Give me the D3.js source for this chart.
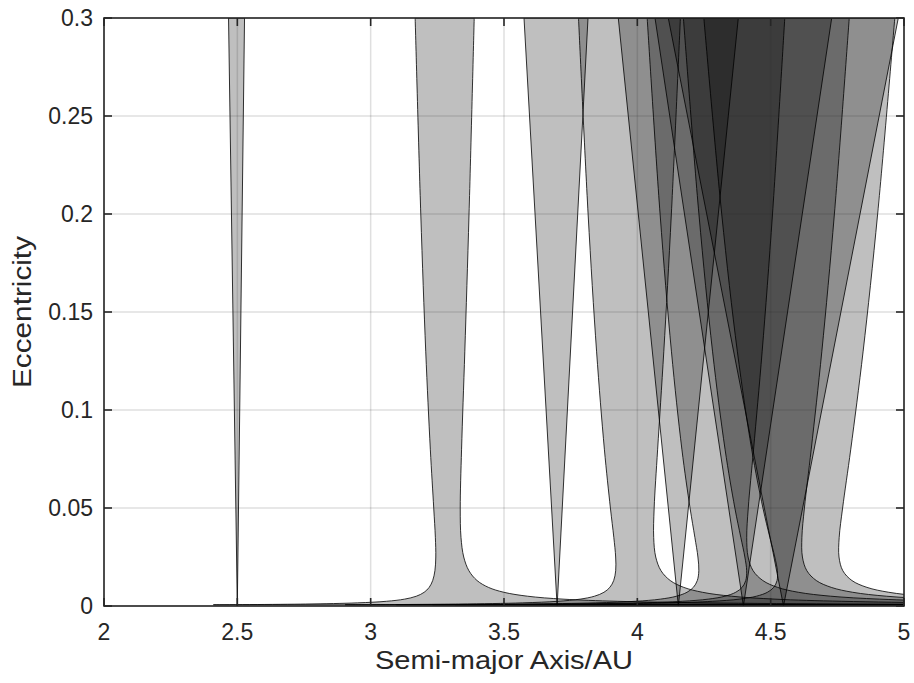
<!DOCTYPE html>
<html>
<head>
<meta charset="utf-8">
<script src="https://cdn.jsdelivr.net/npm/d3@7"></script>
<style>
  html, body { margin: 0; padding: 0; background: #fff; }
  svg { display: block; }
  text { font-family: "Liberation Sans", Arial, Helvetica, sans-serif; fill: #262626; }
</style>
</head>
<body>
<svg id="chart" width="914" height="683"></svg>
<script>
// Axis ticks
const xTicks = [2, 2.5, 3, 3.5, 4, 4.5, 5];
const yTicks = [0, 0.05, 0.1, 0.15, 0.2, 0.25, 0.3];
const xTickLabels = ["2", "2.5", "3", "3.5", "4", "4.5", "5"];
const yTickLabels = ["0", "0.05", "0.1", "0.15", "0.2", "0.25", "0.3"];

// Eccentricities at which the first-order resonance edges are sampled
const eccGrid = [0.3, 0.2, 0.13, 0.08, 0.05, 0.035, 0.025, 0.018, 0.013, 0.0095, 0.007, 0.005, 0.0035, 0.0024, 0.0016, 0.001, 0.0006];

// First-order resonances: inner (small a) and outer (large a) edges, AU, one per eccGrid entry
const res21Inner = [3.1668, 3.1879, 3.2065, 3.2237, 3.2365, 3.2426, 3.2442, 3.2409, 3.2326, 3.2194, 3.2006, 3.1714, 3.1271, 3.0592, 2.9511, 2.7563, 2.4100];
const res21Outer = [3.3883, 3.3689, 3.3531, 3.3409, 3.3359, 3.3387, 3.3490, 3.3684, 3.3989, 3.4416, 3.4994, 3.5880, 3.7213, 3.9253, 4.2499, 4.8343, 5.8731];
const res32Inner = [3.7794, 3.8154, 3.8471, 3.8764, 3.8990, 3.9118, 3.9187, 3.9188, 3.9114, 3.8969, 3.8748, 3.8394, 3.7853, 3.7020, 3.5691, 3.3298, 2.9042];
const res32Outer = [4.1615, 4.1276, 4.0993, 4.0762, 4.0631, 4.0613, 4.0690, 4.0888, 4.1234, 4.1742, 4.2442, 4.3526, 4.5161, 4.7667, 5.1655, 5.8838, 7.1606];
const res43Inner = [4.0369, 4.0853, 4.1278, 4.1670, 4.1977, 4.2158, 4.2272, 4.2306, 4.2249, 4.2101, 4.1862, 4.1470, 4.0865, 3.9930, 3.8437, 3.5746, 3.0961];
const res43Outer = [4.5529, 4.5069, 4.4682, 4.4359, 4.4160, 4.4102, 4.4153, 4.4341, 4.4705, 4.5260, 4.6039, 4.7251, 4.9087, 5.1902, 5.6386, 6.4460, 7.8815];
const res54Inner = [4.1727, 4.2309, 4.2819, 4.3289, 4.3657, 4.3881, 4.4032, 4.4100, 4.4066, 4.3929, 4.3689, 4.3287, 4.2658, 4.1684, 4.0126, 3.7318, 3.2322];
const res54Outer = [4.7947, 4.7390, 4.6920, 4.6522, 4.6266, 4.6171, 4.6191, 4.6357, 4.6711, 4.7273, 4.8076, 4.9335, 5.1248, 5.4185, 5.8866, 6.7294, 8.2280];
const res65Inner = [4.2494, 4.3164, 4.3749, 4.4287, 4.4710, 4.4970, 4.5154, 4.5251, 4.5240, 4.5115, 4.4878, 4.4468, 4.3823, 4.2820, 4.1214, 3.8317, 3.3163];
const res65Outer = [4.9655, 4.9012, 4.8468, 4.8004, 4.7698, 4.7570, 4.7563, 4.7706, 4.8047, 4.8611, 4.9429, 5.0722, 5.2693, 5.5721, 6.0548, 6.9244, 8.4705];

// Second-order resonances: [inner edge at e = 0.3, centre at e = 0, outer edge at e = 0.3], AU
const res31 = [2.467, 2.4999, 2.527];
const res53 = [3.575, 3.6992, 3.815];
const res75 = [3.9286, 4.1538, 4.3786];
const res97 = [4.0663, 4.3978, 4.7289];
const res119 = [4.1161, 4.5482, 4.9786];
const eccTop = 0.3;

const firstOrder = [
  [res21Inner, res21Outer],
  [res32Inner, res32Outer],
  [res43Inner, res43Outer],
  [res54Inner, res54Outer],
  [res65Inner, res65Outer]
];
const secondOrder = [res31, res53, res75, res97, res119];

// Layout
const plot = { left: 104, right: 904, top: 18, bottom: 606 };
const svg = d3.select("#chart");
const x = d3.scaleLinear().domain([2, 5]).range([plot.left, plot.right]);
const y = d3.scaleLinear().domain([0, 0.3]).range([plot.bottom, plot.top]);

svg.append("defs").append("clipPath").attr("id", "plotClip")
  .append("rect")
  .attr("x", plot.left).attr("y", plot.top)
  .attr("width", plot.right - plot.left).attr("height", plot.bottom - plot.top);

const smooth = d3.line().x(d => x(d[0])).y(d => y(d[1])).curve(d3.curveCatmullRom.alpha(0.5));
const straight = d3.line().x(d => x(d[0])).y(d => y(d[1]));

const zones = svg.append("g").attr("clip-path", "url(#plotClip)");

// Libration zones of first-order resonances
firstOrder.forEach(([inner, outer]) => {
  const innerPts = inner.map((a, i) => [a, eccGrid[i]]);
  const outerPts = outer.map((a, i) => [a, eccGrid[i]]).reverse();
  const d = smooth(innerPts) + smooth(outerPts).replace(/^M/, "L") + "Z";
  zones.append("path")
    .attr("d", d)
    .attr("fill", "#000").attr("fill-opacity", 0.25)
    .attr("stroke", "#000").attr("stroke-width", 0.8).attr("stroke-linejoin", "round");
});

// Libration zones of second-order resonances (wedges from e = 0)
secondOrder.forEach(r => {
  const pts = [[r[0], eccTop], [r[1], 0], [r[2], eccTop]];
  zones.append("path")
    .attr("d", straight(pts) + "Z")
    .attr("fill", "#000").attr("fill-opacity", 0.25)
    .attr("stroke", "#000").attr("stroke-width", 0.8).attr("stroke-linejoin", "miter");
});

// Grid on top of the shaded zones
const grid = svg.append("g").attr("stroke", "rgba(38,38,38,0.15)").attr("stroke-width", 1.5);
xTicks.forEach(t => grid.append("line")
  .attr("x1", x(t)).attr("x2", x(t)).attr("y1", plot.top).attr("y2", plot.bottom));
yTicks.forEach(t => grid.append("line")
  .attr("x1", plot.left).attr("x2", plot.right).attr("y1", y(t)).attr("y2", y(t)));

// Axes: box plus inward ticks on all four sides
const axisColor = "#262626";
const tickLen = 8;
const axes = svg.append("g").attr("stroke", axisColor).attr("stroke-width", 1.6).attr("fill", "none");
xTicks.forEach(t => {
  axes.append("line").attr("x1", x(t)).attr("x2", x(t)).attr("y1", plot.bottom).attr("y2", plot.bottom - tickLen);
  axes.append("line").attr("x1", x(t)).attr("x2", x(t)).attr("y1", plot.top).attr("y2", plot.top + tickLen);
});
yTicks.forEach(t => {
  axes.append("line").attr("x1", plot.left).attr("x2", plot.left + tickLen).attr("y1", y(t)).attr("y2", y(t));
  axes.append("line").attr("x1", plot.right).attr("x2", plot.right - tickLen).attr("y1", y(t)).attr("y2", y(t));
});
axes.append("rect")
  .attr("x", plot.left).attr("y", plot.top)
  .attr("width", plot.right - plot.left).attr("height", plot.bottom - plot.top);

// Tick labels
const tickFont = 23;
xTicks.forEach((t, i) => svg.append("text")
  .attr("x", x(t)).attr("y", plot.bottom + 34)
  .attr("text-anchor", "middle").attr("font-size", tickFont)
  .text(xTickLabels[i]));
yTicks.forEach((t, i) => svg.append("text")
  .attr("x", plot.left - 11).attr("y", y(t))
  .attr("text-anchor", "end").attr("dominant-baseline", "central").attr("font-size", tickFont)
  .text(yTickLabels[i]));

// Axis titles
svg.append("text")
  .attr("x", (plot.left + plot.right) / 2).attr("y", plot.bottom + 63)
  .attr("text-anchor", "middle").attr("font-size", 26)
  .attr("textLength", 258).attr("lengthAdjust", "spacingAndGlyphs")
  .text("Semi-major Axis/AU");
svg.append("text")
  .attr("transform", `translate(31,${(plot.top + plot.bottom) / 2}) rotate(-90)`)
  .attr("text-anchor", "middle").attr("font-size", 26)
  .attr("textLength", 152).attr("lengthAdjust", "spacingAndGlyphs")
  .text("Eccentricity");
</script>
</body>
</html>
